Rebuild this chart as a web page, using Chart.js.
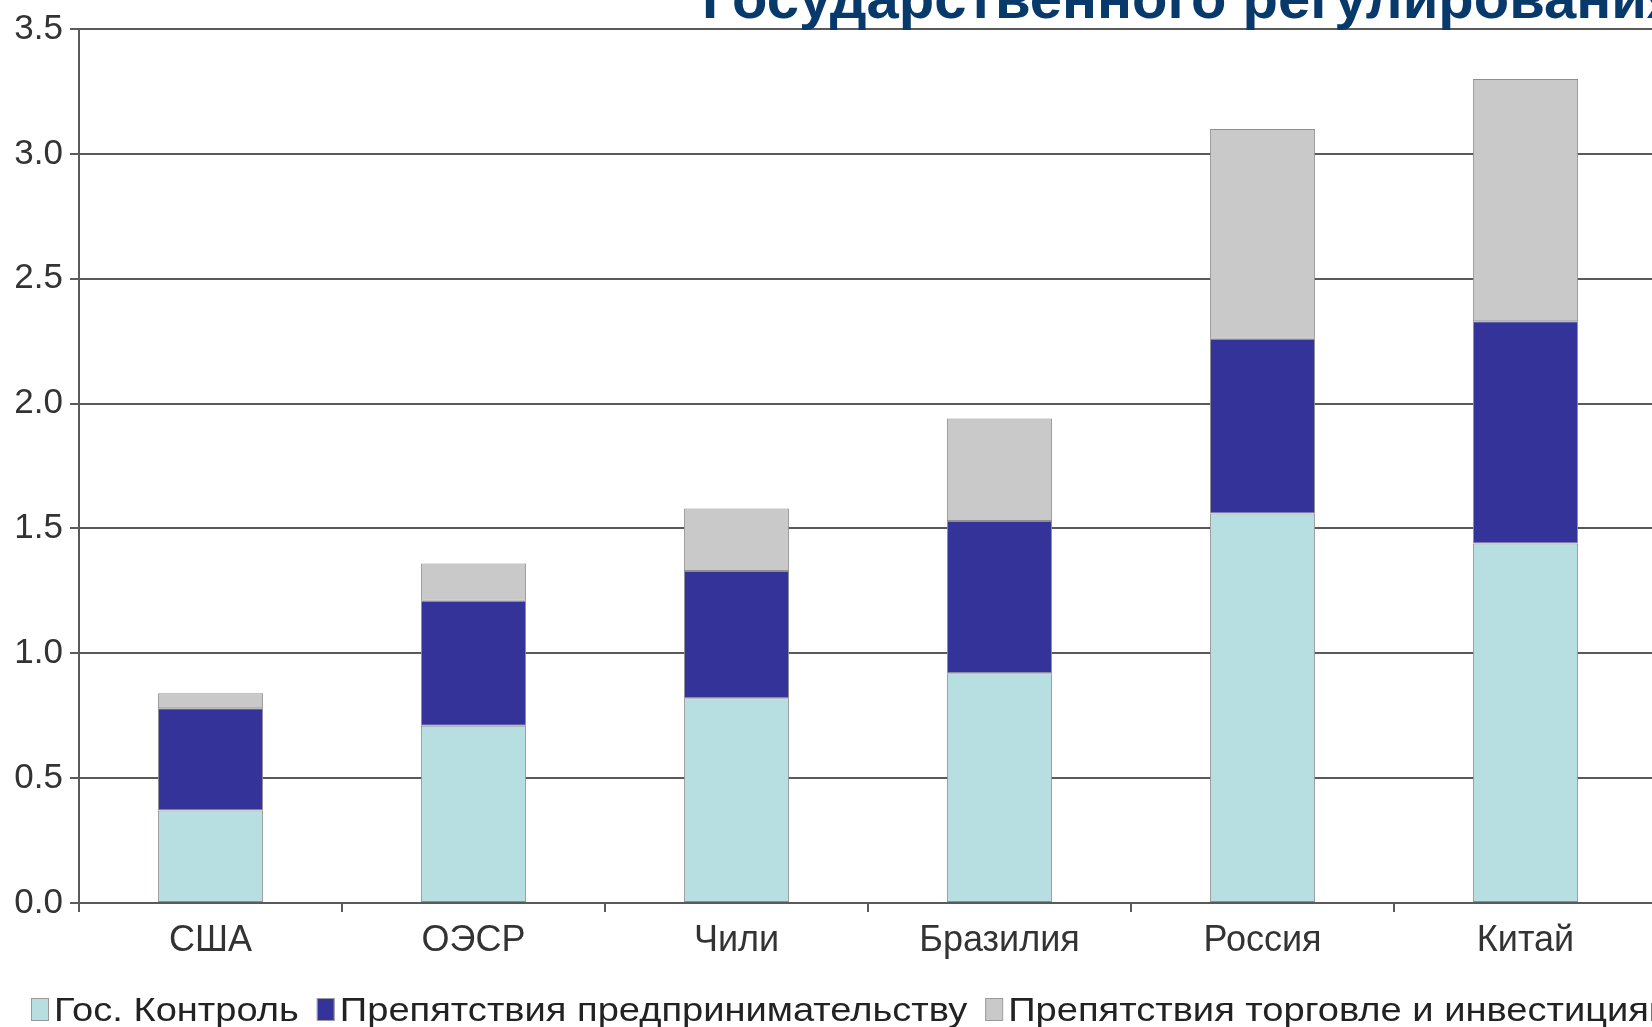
<!DOCTYPE html>
<html>
<head>
<meta charset="utf-8">
<script src="https://cdn.jsdelivr.net/npm/chart.js@4.4.1/dist/chart.umd.min.js"></script>
<style>
  html, body { margin: 0; padding: 0; background: #fff; }
  #wrap { position: relative; width: 1652px; height: 1027px; overflow: hidden; }
  #chart { position: absolute; left: 0; top: 0; }
</style>
</head>
<body>
<div id="wrap">
  <canvas id="chart" width="1662" height="1027"></canvas>
</div>
<script>
// Данные диаграммы
const categories = ['США', 'ОЭСР', 'Чили', 'Бразилия', 'Россия', 'Китай'];
const govControl = [0.37, 0.71, 0.82, 0.92, 1.56, 1.44];
const bizBarriers = [0.41, 0.50, 0.51, 0.61, 0.70, 0.89];
const tradeBarriers = [0.06, 0.15, 0.25, 0.41, 0.84, 0.97];
const seriesNames = ['Гос. Контроль', 'Препятствия предпринимательству', 'Препятствия торговле и инвестициям'];
const seriesColors = ['#b7dfe2', '#333399', '#c9c9c9'];
const yTicks = [0, 0.5, 1.0, 1.5, 2.0, 2.5, 3.0, 3.5];
const titleText = 'Государственного регулирования';

const FONT = "'Liberation Sans', Arial, sans-serif";

// Заголовок (обрезан сверху) и легенда снизу
const extrasPlugin = {
    id: 'extras',
    afterDraw(chart) {
        const ctx = chart.ctx;
        ctx.save();
        ctx.textBaseline = 'alphabetic';
        ctx.textAlign = 'left';

        ctx.font = 'bold 58px ' + FONT;
        ctx.fillStyle = '#07396b';
        ctx.fillText(titleText, 702, 18);

        // легенда: текст немного растянут по горизонтали, как в оригинале
        const sx = 1.12;
        ctx.font = '34px ' + FONT;
        let x = 31;
        const baseY = 1021;
        seriesNames.forEach((name, i) => {
            ctx.fillStyle = seriesColors[i];
            ctx.fillRect(x, 998, 17, 22);
            ctx.strokeStyle = '#9a9a9a';
            ctx.lineWidth = 1;
            ctx.strokeRect(x + 0.5, 998.5, 17, 22);
            x += 23;
            ctx.save();
            ctx.translate(x, baseY);
            ctx.scale(sx, 1);
            ctx.fillStyle = '#222';
            ctx.fillText(name, 0, 0);
            ctx.restore();
            x += ctx.measureText(name).width * sx + 18;
        });
        ctx.restore();
    }
};

function makeDataset(label, data, color) {
    return {
        label: label,
        data: data,
        backgroundColor: color,
        borderColor: '#8f8f8f',
        borderWidth: 1,
        borderSkipped: false,
        barPercentage: 0.4,
        categoryPercentage: 1.0
    };
}

new Chart(document.getElementById('chart').getContext('2d'), {
    type: 'bar',
    data: {
        labels: categories,
        datasets: [
            makeDataset(seriesNames[0], govControl, seriesColors[0]),
            makeDataset(seriesNames[1], bizBarriers, seriesColors[1]),
            makeDataset(seriesNames[2], tradeBarriers, seriesColors[2])
        ]
    },
    options: {
        responsive: false,
        animation: false,
        layout: { padding: { top: 29, right: 5, left: 0, bottom: 0 } },
        plugins: {
            legend: { display: false },
            tooltip: { enabled: false }
        },
        scales: {
            x: {
                stacked: true,
                offset: true,
                grid: {
                    display: true,
                    offset: true,
                    drawOnChartArea: false,
                    drawTicks: true,
                    tickLength: 9,
                    color: '#5a5a5a',
                    lineWidth: 2
                },
                border: { display: true, color: '#5a5a5a', width: 2 },
                ticks: {
                    color: '#333',
                    font: { family: FONT, size: 36 },
                    padding: 7,
                    maxRotation: 0,
                    autoSkip: false
                },
                afterFit(scale) { scale.height = 124; }
            },
            y: {
                stacked: true,
                min: 0,
                max: 3.5,
                afterBuildTicks(scale) {
                    scale.ticks = yTicks.map(v => ({ value: v }));
                },
                grid: {
                    color: '#5a5a5a',
                    lineWidth: 2,
                    tickLength: 9,
                    drawTicks: true
                },
                border: { display: true, color: '#5a5a5a', width: 2 },
                ticks: {
                    color: '#333',
                    font: { family: FONT, size: 35 },
                    padding: 7,
                    callback: v => Number(v).toFixed(1)
                },
                afterFit(scale) { scale.width = 79; }
            }
        }
    },
    plugins: [extrasPlugin]
});
</script>
</body>
</html>
